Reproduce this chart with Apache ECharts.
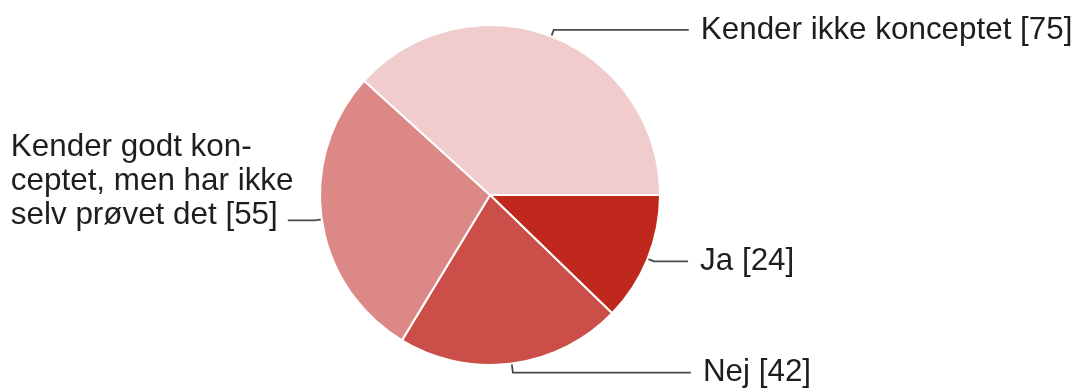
<!DOCTYPE html>
<html>
<head>
<meta charset="utf-8">
<script src="https://cdn.jsdelivr.net/npm/echarts@6/dist/echarts.min.js"></script>
<style>html,body{margin:0;padding:0;background:#fff;}#c{width:1079px;height:389px;}</style>
</head>
<body>
<div id="c"></div>
<script>
const categories = ['Ja', 'Nej', 'Kender godt kon-\nceptet, men har ikke\nselv prøvet det', 'Kender ikke konceptet'];
const values = [24, 42, 55, 75];
const colors = ['#c0281e', '#cb4f48', '#dc8886', '#f0cccc'];
const lineLen = [7, 9, 7, 7];
const lineLen2 = [34, 178, 27, 135];

const FONT = 'Liberation Sans, Arial, sans-serif';
const chart = echarts.init(document.getElementById('c'), null, {renderer: 'canvas'});
const data = categories.map((name, i) => {
  const item = {
    name: name,
    value: values[i],
    itemStyle: {color: colors[i]},
    labelLine: {length: lineLen[i], length2: lineLen2[i]}
  };
  if (i === 2) {
    item.label = {
      formatter: function (p) {
        return p.name.split('\n').map((l, k, arr) => '{a|' + l + (k === arr.length - 1 ? ' [' + p.value + ']' : '') + '}').join('\n');
      },
      width: 265,
      overflow: 'none',
      padding: [0, 0, 78, 0],
      rich: {a: {align: 'left', fontSize: 31.4, lineHeight: 34, color: '#1e1e1e', fontFamily: FONT}}
    };
  }
  return item;
});

chart.setOption({
  animation: false,
  series: [{
    type: 'pie',
    center: [490, 195],
    radius: 170,
    startAngle: 0,
    clockwise: true,
    avoidLabelOverlap: false,
    data: data,
    itemStyle: {borderColor: '#ffffff', borderWidth: 2},
    label: {
      show: true,
      position: 'outside',
      distanceToLabelLine: 12,
      formatter: '{b} [{c}]',
      fontSize: 31.4,
      color: '#1e1e1e',
      fontFamily: FONT
    },
    labelLine: {
      show: true,
      smooth: false,
      lineStyle: {color: '#4a4a4a', width: 1.8}
    },
    emphasis: {disabled: true}
  }]
});
</script>
</body>
</html>
